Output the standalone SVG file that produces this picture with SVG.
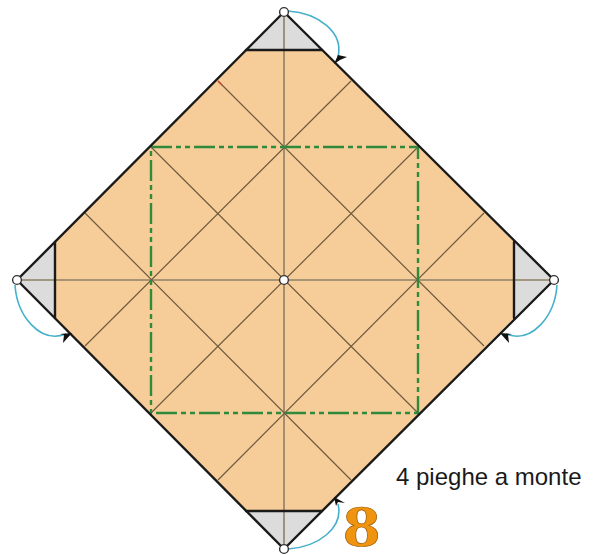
<svg xmlns="http://www.w3.org/2000/svg" width="597" height="555" viewBox="0 0 597 555">
<style>
.paper{fill:#f6cd98;stroke:none}
.flap{fill:#dcdcdc;stroke:none}
.edge{fill:none;stroke:#1a1a1a;stroke-width:2.4;stroke-linecap:round;stroke-linejoin:round}
.crease{fill:none;stroke:#6f5a3f;stroke-width:1.2}
.axis{fill:none;stroke:#8f8066;stroke-width:1.6}
.valley{fill:none;stroke:#2f8a3c;stroke-width:2.4;stroke-dasharray:21 4 5 4 5 4}
.arc{fill:none;stroke:#45b0cc;stroke-width:1.6}
.head{fill:#111;stroke:none}
.pin{fill:#fff;stroke:#333;stroke-width:1.4}
.label{font-family:"Liberation Sans",Arial,sans-serif;font-size:24px;fill:#1a1a1a}
.num{font-family:"Liberation Serif","Times New Roman",serif;font-size:60px;font-weight:bold;fill:#f0930f;stroke:#9a5a08;stroke-width:.6}
</style>
<g id="paper">
<polygon class="paper" points="246,50 322,50 514,242 514,318 322,511 246,511 55,318 55,242"/>
<polygon class="flap" points="284,12 322,50 246,50"/>
<polygon class="flap" points="284,549 322,511 246,511"/>
<polygon class="flap" points="17,280 55,242 55,318"/>
<polygon class="flap" points="554,280 514,242 514,318"/>
</g>
<g id="creases">
<path class="axis" d="M284 12V549M17 280H554"/>
<path class="crease" d="M151 147L418 413M418 147L151 413M218 81L484 346M351 81L85 346M85 213L351 480M484 213L218 480"/>
<path d="M218 81L222 85" stroke="#d9402a" stroke-width="1.2" fill="none"/>
<rect class="valley" x="151" y="147" width="267" height="266"/>
</g>
<g id="outline">
<path class="edge" d="M284 12L554 280L284 549L17 280Z"/>
<path class="edge" d="M246 50H322M246 511H322M55 242V318M514 242V318"/>
</g>
<g id="connectors">
<path class="arc" d="M288 11C318 13 344 32 338 57"/>
<path class="head" d="M334 64L338 55L347 57L340 60Z"/>
<path class="arc" d="M288 549C318 547 344 528 338 504"/>
<path class="head" d="M334 497L345 503L338 502L336 506Z"/>
<path class="arc" d="M15 285C17 316 40 344 66 334"/>
<path class="head" d="M72 333L63 343L64 335L60 334Z"/>
<path class="arc" d="M557 285C555 316 532 344 506 334"/>
<path class="head" d="M500 333L509 343L508 335L512 334Z"/>
</g>
<g id="pin-top"><circle class="pin" cx="284" cy="12" r="4.4"/></g>
<g id="pin-right"><circle class="pin" cx="554" cy="280" r="4.4"/></g>
<g id="pin-bottom"><circle class="pin" cx="284" cy="549" r="4.4"/></g>
<g id="pin-left"><circle class="pin" cx="17" cy="280" r="4.4"/></g>
<g id="pin-center"><circle class="pin" cx="284" cy="280" r="4.4"/></g>
<g id="caption"><text class="label" x="396" y="485">4 pieghe a monte</text></g>
<g id="step"><text class="num" transform="translate(343 546) scale(1.24 1)" x="0" y="0">8</text></g>
</svg>
